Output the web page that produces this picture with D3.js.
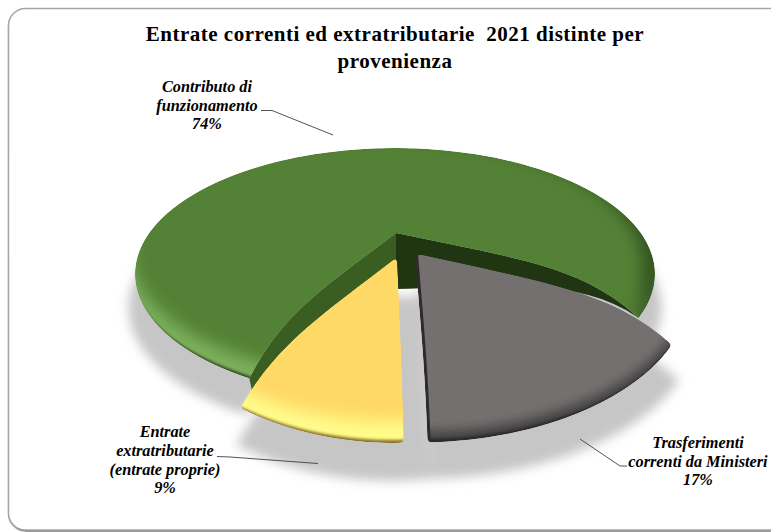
<!DOCTYPE html>
<html lang="it">
<head>
<meta charset="utf-8">
<title>Entrate correnti ed extratributarie 2021</title>
<script src="https://cdnjs.cloudflare.com/ajax/libs/d3/7.8.5/d3.min.js"></script>
<style>
  html, body { margin: 0; padding: 0; background: #fff; }
  svg { display: block; }
  text { font-family: "Liberation Serif", serif; fill: #000; }
  .title { font-weight: bold; font-size: 21px; letter-spacing: 0.5px; white-space: pre; }
  .label { font-weight: bold; font-style: italic; font-size: 16.3px; }
</style>
</head>
<body>
<svg id="chart" width="771" height="532"></svg>
<script>
// Values of the chart
const categories = ["Contributo di funzionamento", "Trasferimenti correnti da Ministeri", "Entrate extratributarie (entrate proprie)"];
const shares = [74, 17, 9];
const titleLines = ["Entrate correnti ed extratributarie  2021 distinte per", "provenienza"];
const labelLines = [
  ["Contributo di", "funzionamento", "74%"],
  ["Trasferimenti", "correnti da Ministeri", "17%"],
  ["Entrate", "extratributarie", "(entrate proprie)", "9%"]
];

// Slice geometry: every exploded slice has its own apex and rim ellipse
const sliceStyle = [
  { apex: [396, 233], rim: { cx: 395, cy: 274, a: 260, b: 126 }, bow: 19, fill: "#538135", rounded: false,
    bevel: [
      { grow: 10, dx: 6, dy: -31, sd: 8, color: "#a6e083", opacity: 0.5 },
      { grow: 10, dx: -24, dy: 0, sd: 7, color: "#1d3510", opacity: 0.55 },
      { grow: 3, dx: 0, dy: -6, sd: 1.6, color: "#1c3310", opacity: 0.95 }
    ] },
  { apex: [418, 254], rim: { cx: 420, cy: 293, a: 269, b: 148 }, bow: 19, fill: "#747070", rounded: true,
    bevel: [
      { grow: 8, dx: -8, dy: -17, sd: 6, color: "#1c1c1c", opacity: 0.6 },
      { grow: 3, dx: -2, dy: -5, sd: 1.3, color: "#222", opacity: 0.7 }
    ] },
  { apex: [397, 257], rim: { cx: 393, cy: 240, a: 273, b: 203 }, bow: 17, fill: "#ffd966", rounded: true,
    bevel: [
      { grow: 6, dx: 0, dy: -28, sd: 8, color: "#ffff8c", opacity: 0.95 },
      { grow: 3, dx: 0, dy: -6, sd: 1.5, color: "#7a5c16", opacity: 0.9 }
    ] }
];
const startDeg = 210.4;
const foreshorten = 0.12;        // perspective shift of angles on the rim

const labelLayout = [
  { x: 207, y: 92, step: 18.5 },
  { x: 698, y: 448, step: 18.5 },
  { x: 165, y: 437, step: 18.8 }
];
const leaders = [
  [[261, 110.5], [272, 110.5], [333, 135]],
  [[580, 439], [620, 466], [627, 466]],
  [[217, 456.5], [230, 457], [318, 463.5]]
];

const svg = d3.select("#chart");
const defs = svg.append("defs");
const pie = d3.pie().sort(null).value(d => d).startAngle(startDeg * Math.PI / 180).endAngle((startDeg + 360) * Math.PI / 180);
const arcs = pie(shares);

// Rim point for a pie angle, on the slice's own ellipse
function rimPoint(style, angle) {
  const X = Math.sin(angle), Y = Math.cos(angle);
  const q = foreshorten, w = 1 + q * Y;
  const sx = d3.scaleLinear().domain([-1, 1]).range([style.rim.cx - style.rim.a, style.rim.cx + style.rim.a]);
  const sy = d3.scaleLinear().domain([-1, 1]).range([style.rim.cy + style.rim.b, style.rim.cy - style.rim.b]);
  return [sx(X * Math.sqrt(1 - q * q) / w), sy((Y + q) / w)];
}

// Radial edge from the apex to the rim; the surface domes upward, most toward the rim
function edgePoints(style, angle) {
  const end = rimPoint(style, angle);
  return d3.range(0, 1.0001, 0.05).map(t => [
    style.apex[0] + (end[0] - style.apex[0]) * t,
    style.apex[1] + (end[1] - style.apex[1]) * t - style.bow * 1.87 * t * (1 - t ** 4)
  ]);
}

function slicePoints(style, arc) {
  const n = Math.ceil((arc.endAngle - arc.startAngle) / 0.02);
  const rim = d3.range(n + 1).map(i => rimPoint(style, arc.startAngle + (arc.endAngle - arc.startAngle) * i / n));
  return [...edgePoints(style, arc.startAngle), ...rim, ...edgePoints(style, arc.endAngle).reverse()];
}

const line = d3.line().curve(d3.curveLinear);
const slicePath = i => line(slicePoints(sliceStyle[i], arcs[i])) + "Z";

// Side wall below a radial edge, thinning toward the rim
function wallPath(style, angle, hApex, hRim, shift) {
  const top = edgePoints(style, angle);
  const bottom = top.map((p, k) => {
    const t = k / (top.length - 1);
    return [p[0] + shift * t, p[1] + hApex * (1 - t) + hRim * t];
  });
  return line([...top, ...bottom.reverse()]) + "Z";
}

// Filters
const blur = defs.append("filter").attr("id", "soft").attr("filterUnits", "userSpaceOnUse")
  .attr("x", 0).attr("y", 0).attr("width", 771).attr("height", 532);
blur.append("feGaussianBlur").attr("stdDeviation", 5);

const frameShadow = defs.append("filter").attr("id", "frameShadow").attr("filterUnits", "userSpaceOnUse")
  .attr("x", 0).attr("y", 0).attr("width", 820).attr("height", 532);
frameShadow.append("feDropShadow").attr("dx", 0.6).attr("dy", 1).attr("stdDeviation", 0.7)
  .attr("flood-color", "#555").attr("flood-opacity", 0.8);

// Softens sharp slice tips: blurs the alpha, then cuts it back to a hard edge
const roundTips = defs.append("filter").attr("id", "roundTips").attr("filterUnits", "userSpaceOnUse")
  .attr("x", 0).attr("y", 0).attr("width", 771).attr("height", 532);
roundTips.append("feGaussianBlur").attr("in", "SourceGraphic").attr("stdDeviation", 2.2).attr("result", "b");
roundTips.append("feComponentTransfer").attr("in", "b").attr("result", "cut")
  .append("feFuncA").attr("type", "linear").attr("slope", 7).attr("intercept", -3);
roundTips.append("feComposite").attr("in", "SourceGraphic").attr("in2", "cut").attr("operator", "in");

// Rim shading: each layer tints what lies inside the shape near one side of it
function bevelFilter(id, layers) {
  const f = defs.append("filter").attr("id", id).attr("filterUnits", "userSpaceOnUse")
    .attr("x", 0).attr("y", 0).attr("width", 771).attr("height", 532)
    .attr("color-interpolation-filters", "sRGB");
  f.append("feFlood").attr("flood-color", "#fff").attr("result", "white");
  let current = "SourceGraphic";
  layers.forEach((l, i) => {
    f.append("feMorphology").attr("in", "SourceAlpha").attr("operator", "dilate").attr("radius", l.grow).attr("result", `g${i}`);
    f.append("feComposite").attr("in", "white").attr("in2", `g${i}`).attr("operator", "out").attr("result", `n${i}`);
    f.append("feOffset").attr("in", `n${i}`).attr("dx", l.dx).attr("dy", l.dy).attr("result", `o${i}`);
    f.append("feGaussianBlur").attr("in", `o${i}`).attr("stdDeviation", l.sd).attr("result", `b${i}`);
    f.append("feFlood").attr("flood-color", l.color).attr("flood-opacity", l.opacity).attr("result", `c${i}`);
    f.append("feComposite").attr("in", `c${i}`).attr("in2", `b${i}`).attr("operator", "in").attr("result", `t${i}`);
    f.append("feComposite").attr("in", `t${i}`).attr("in2", current).attr("operator", "atop").attr("result", `r${i}`);
    current = `r${i}`;
  });
}
sliceStyle.forEach((s, i) => bevelFilter(`bevel${i}`, s.bevel));

// Frame
svg.append("rect").attr("x", 8.5).attr("y", 8.5).attr("width", 790).attr("height", 521.5).attr("rx", 17)
  .attr("fill", "#fff").attr("stroke", "#a6a6a6").attr("stroke-width", 1.5).attr("filter", "url(#frameShadow)");

// Cast shadow under the slices
const shadow = svg.append("g").attr("filter", "url(#soft)")
  .attr("transform", "translate(395,280) scale(1.025) translate(-395,-247)");
shares.forEach((d, i) => shadow.append("path").attr("d", slicePath(i)).attr("fill", "#c6c6c6"));
{
  // closes the narrow gap between the two front slices
  const grayEdge = edgePoints(sliceStyle[1], arcs[1].endAngle);
  const yellowEdge = edgePoints(sliceStyle[2], arcs[2].startAngle);
  shadow.append("path").attr("fill", "#c6c6c6")
    .attr("d", line([yellowEdge[1], yellowEdge[20], grayEdge[20], grayEdge[1]]) + "Z");
}

// Dark walls of the main slice, visible in its notch
const green = sliceStyle[0];
svg.append("path").attr("d", wallPath(green, arcs[0].endAngle, 56, 0, 0)).attr("fill", "#203512");
svg.append("path").attr("d", wallPath(green, arcs[0].startAngle, 56, 14, 3)).attr("fill", "#3a5e22");

// Slice tops with rim shading; the thin side of the grey slice goes underneath it
const drawOrder = [0, 1, 2];
drawOrder.forEach(i => {
  const s = sliceStyle[i];
  defs.append("clipPath").attr("id", `clip${i}`).append("path").attr("d", slicePath(i));
  const holder = svg.append("g").attr("filter", s.rounded ? "url(#roundTips)" : null);
  if (i === 1) {
    holder.append("path").attr("d", slicePath(i)).attr("fill", "#2e2c2e").attr("transform", "translate(-3,1.5)");
  }
  holder.append("g").attr("clip-path", `url(#clip${i})`)
    .append("ellipse")
    .attr("cx", s.rim.cx).attr("cy", s.rim.cy).attr("rx", s.rim.a).attr("ry", s.rim.b)
    .attr("fill", s.fill).attr("filter", `url(#bevel${i})`)
    .attr("data-category", categories[i]);
});

// Leader lines
svg.append("g").selectAll("path").data(leaders).join("path")
  .attr("d", d => line(d)).attr("fill", "none").attr("stroke", "#404040").attr("stroke-width", 0.9);

// Slice labels
labelLines.forEach((lines, i) => {
  svg.append("g").selectAll("text").data(lines).join("text")
    .attr("class", "label").attr("text-anchor", "middle")
    .attr("x", labelLayout[i].x)
    .attr("y", (d, k) => labelLayout[i].y + k * labelLayout[i].step)
    .text(d => d);
});

// Title
svg.append("g").selectAll("text").data(titleLines).join("text")
  .attr("class", "title").attr("text-anchor", "middle").attr("x", 395)
  .attr("y", (d, k) => 41 + k * 27)
  .text(d => d);
</script>
</body>
</html>
